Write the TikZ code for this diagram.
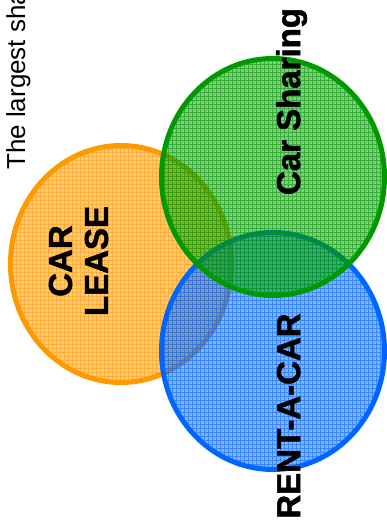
\documentclass[tikz,border=0pt]{standalone}
\usepackage{fontspec}
\setmainfont{Liberation Sans}
\newfontfamily\heavyfont[FakeBold=1.6]{Liberation Sans Bold}
\definecolor{corange}{HTML}{FF9900}
\definecolor{cgreen}{HTML}{009900}
\definecolor{cblue}{HTML}{0066FF}
\tikzset{
  setfill/.style={fill=#1, fill opacity=0.5},
  setgrid/.style={draw=#1, line width=0.7pt, draw opacity=0.55},
  setborder/.style={draw=#1, line width=5pt},
  biglabel/.style={font=\heavyfont\fontsize{33}{36}\selectfont, text=black, inner sep=0pt, rotate=90, align=center},
}
\usetikzlibrary{calc}
\newcommand{\vennset}[4]{% center, rx, ry, color
  \begin{scope}
    \clip #1 ellipse [x radius=#2, y radius=#3];
    \fill[setfill=#4] #1 ellipse [x radius=#2, y radius=#3];
    \draw[setgrid=#4, xstep=4pt, ystep=4pt] ($#1+(-130,130)$) grid ($#1+(130,-130)$);
  \end{scope}
  \draw[setborder=#4] #1 ellipse [x radius=#2, y radius=#3];
}
\begin{document}
\begin{tikzpicture}[x=1pt,y=-1pt]
\useasboundingbox (0,0) rectangle (387,529);
\fill[white] (0,0) rectangle (387,529);
\node[font=\fontsize{26}{30}\selectfont, rotate=90, anchor=base west, inner sep=0pt] (title) at (25,170) {The largest sha};
\vennset{(121,264)}{110.5}{118.5}{corange}
\vennset{(273,351)}{111.5}{118.5}{cblue}
\vennset{(273,177)}{111.5}{118.5}{cgreen}
\node[biglabel, anchor=base] (share) at (300,101.5) {Car Sharing};
\node[biglabel, anchor=base] (rent) at (300,416) {RENT-A-CAR};
\node[biglabel] (lease) at (78.5,261) {CAR\\LEASE};
\end{tikzpicture}
\end{document}
